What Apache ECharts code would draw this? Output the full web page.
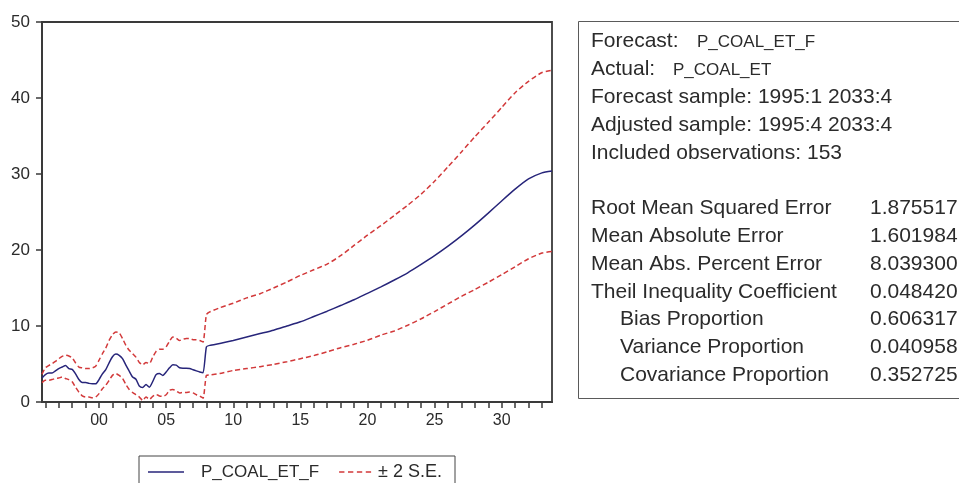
<!DOCTYPE html>
<html>
<head>
<meta charset="utf-8">
<script src="https://cdn.jsdelivr.net/npm/echarts@6/dist/echarts.min.js"></script>
<style>
  html, body { margin: 0; padding: 0; background: #ffffff; }
  #chart { width: 959px; height: 483px; }
</style>
</head>
<body>
<div id="chart"></div>
<script>
// Quarterly periods of the dynamic forecast (history 1995Q4-2007Q4, then the projection)
const periods = [
  '1995Q4',
  '1996Q1','1996Q2','1996Q3','1996Q4',
  '1997Q1','1997Q2','1997Q3','1997Q4',
  '1998Q1','1998Q2','1998Q3','1998Q4',
  '1999Q1','1999Q2','1999Q3','1999Q4',
  '2000Q1','2000Q2','2000Q3','2000Q4',
  '2001Q1','2001Q2','2001Q3','2001Q4',
  '2002Q1','2002Q2','2002Q3','2002Q4',
  '2003Q1','2003Q2','2003Q3','2003Q4',
  '2004Q1','2004Q2','2004Q3','2004Q4',
  '2005Q1','2005Q2','2005Q3','2005Q4',
  '2006Q1','2006Q2','2006Q3','2006Q4',
  '2007Q1','2007Q2','2007Q3','2007Q4',
  '2008Q1','2008Q2',
  '2009Q1','2010Q1','2011Q1','2012Q1','2013Q1','2014Q1','2015Q1','2016Q1',
  '2017Q1','2018Q1','2019Q1','2020Q1','2021Q1','2022Q1','2023Q1','2024Q1',
  '2025Q1','2026Q1','2027Q1','2028Q1','2029Q1','2030Q1','2031Q1','2032Q1',
  '2033Q1','2033Q4'
];

// Forecast P_COAL_ET_F
const forecast = [
  3.16,
  3.6, 3.8, 3.8, 4.1,
  4.4, 4.6, 4.8, 4.4,
  4.3, 3.7, 2.95, 2.55,
  2.55, 2.45, 2.4, 2.4,
  2.95, 3.7, 4.25, 5.15,
  5.95, 6.3, 6.15, 5.7,
  4.85, 4.05, 3.3, 3.0,
  2.1, 1.9, 2.3, 1.95,
  2.7, 3.6, 3.75, 3.5,
  3.95, 4.5, 4.9, 4.85,
  4.5, 4.45, 4.45, 4.4,
  4.25, 4.1, 3.95, 3.85,
  7.25, 7.45,
  7.7, 8.1, 8.55, 9.0, 9.45, 10.0, 10.55, 11.25,
  11.95, 12.7, 13.45, 14.3, 15.15, 16.05, 17.0, 18.1,
  19.25, 20.5, 21.85, 23.3, 24.85, 26.45, 28.0, 29.35,
  30.15, 30.4
];

// Upper band: forecast + 2 S.E.
const upper = [
  3.65,
  4.5, 4.8, 5.05, 5.35,
  5.7, 6.0, 6.15, 6.05,
  5.8, 5.15, 4.6, 4.5,
  4.4, 4.4, 4.5, 4.7,
  5.5, 6.35, 7.1, 8.1,
  8.85, 9.2, 9.1, 8.35,
  7.45, 6.8, 6.35, 5.9,
  5.2, 4.9, 5.2, 5.05,
  5.9, 6.65, 6.95, 6.95,
  7.25, 8.0, 8.55, 8.4,
  8.1, 8.25, 8.35, 8.35,
  8.2, 8.2, 8.1, 7.9,
  11.5, 11.85,
  12.4, 13.0, 13.7, 14.25, 15.0, 15.8, 16.65, 17.4,
  18.15, 19.25, 20.6, 21.95, 23.2, 24.55, 25.9, 27.35,
  29.05, 30.95, 32.9, 34.9, 36.8, 38.75, 40.7, 42.2,
  43.35, 43.65
];

// Lower band: forecast - 2 S.E.
const lower = [
  2.55,
  2.85, 2.85, 2.95, 3.1,
  3.15, 3.3, 3.1, 2.95,
  2.65, 1.95, 1.3, 0.8,
  0.65, 0.65, 0.55, 0.65,
  1.1, 1.75, 2.2, 2.85,
  3.5, 3.75, 3.5, 3.1,
  2.3, 1.65, 1.25, 0.95,
  0.65, 0.2, 0.65, 0.35,
  0.75, 1.0, 0.8, 0.75,
  0.95, 1.55, 1.65, 1.45,
  1.2, 1.25, 1.25, 1.3,
  1.2, 0.95, 0.8, 0.5,
  3.5, 3.55,
  3.75, 4.15, 4.4, 4.65, 4.95, 5.3, 5.7, 6.1,
  6.6, 7.15, 7.6, 8.12, 8.8, 9.35, 10.1, 10.95,
  11.9, 12.9, 13.9, 14.8, 15.75, 16.75, 17.8, 18.85,
  19.6, 19.8
];

// Axis ticks: one per year on the time axis, labels every five years
const yearTicks = [1996,1997,1998,1999,2000,2001,2002,2003,2004,2005,2006,2007,2008,2009,2010,
  2011,2012,2013,2014,2015,2016,2017,2018,2019,2020,2021,2022,2023,2024,2025,2026,2027,2028,
  2029,2030,2031,2032,2033];
const yearLabels = [2000, 2005, 2010, 2015, 2020, 2025, 2030];
const valueTicks = [0, 10, 20, 30, 40, 50];

// Forecast evaluation table
const headerRows = [
  ['Forecast:', 'P_COAL_ET_F'],
  ['Actual:', 'P_COAL_ET'],
  ['Forecast sample: 1995:1 2033:4', ''],
  ['Adjusted sample: 1995:4 2033:4', ''],
  ['Included observations: 153', '']
];
const statNames = ['Root Mean Squared Error', 'Mean Absolute Error', 'Mean Abs. Percent Error',
  'Theil Inequality Coefficient', 'Bias Proportion', 'Variance Proportion', 'Covariance Proportion'];
const statValues = ['1.875517', '1.601984', '8.039300', '0.048420', '0.606317', '0.040958', '0.352725'];
const statIndent = [false, false, false, false, true, true, true];

const fcName = 'P_COAL_ET_F';
const seName = '\u00b1 2 S.E.';

// Convert "YYYYQn" to a fractional year position
function toYear(p) {
  const y = parseInt(p.slice(0, 4), 10);
  const q = parseInt(p.slice(5), 10);
  return y + (q - 1) / 4;
}
const xs = periods.map(toYear);
const pairs = vals => vals.map((v, i) => [xs[i], v]);

const FONT = '"Liberation Sans", Arial, Helvetica, sans-serif';
const TEXT = '#2b2b2b';
const BLUE = '#27257a';
const RED = '#d2393a';
const DASH = [5, 3];

// Legend keys: a solid stroke and a dashed stroke
const solidKey = 'path://M0,0h36v1.6h-36z';
const dashedKey = 'path://M0,0h6v1.8h-6z M10,0h6v1.8h-6z M20,0h6v1.8h-6z M30,0h6v1.8h-6z';

// Text block of the evaluation table
const tableGraphics = [{
  type: 'rect',
  shape: { x: 578.5, y: 21.5, width: 400, height: 377 },
  style: { fill: 'none', stroke: '#5a5a5a', lineWidth: 1 },
  silent: true
}];
const rowTop = 41.7, rowStep = 27.8;
headerRows.forEach((r, i) => {
  const y = rowTop + i * rowStep;
  tableGraphics.push({
    type: 'text', x: 591, y: y,
    style: { text: r[0], font: '21px ' + FONT, fill: TEXT, textVerticalAlign: 'middle' }
  });
  if (r[1]) {
    tableGraphics.push({
      type: 'text', x: i === 0 ? 697 : 673, y: y + 1,
      style: { text: r[1], font: '17px ' + FONT, fill: TEXT, textVerticalAlign: 'middle' }
    });
  }
});
const statTop = 208.5;
statNames.forEach((n, i) => {
  const y = statTop + i * rowStep;
  tableGraphics.push({
    type: 'text', x: statIndent[i] ? 620 : 591, y: y,
    style: { text: n, font: '21px ' + FONT, fill: TEXT, textVerticalAlign: 'middle' }
  });
  tableGraphics.push({
    type: 'text', x: 870, y: y,
    style: { text: statValues[i], font: '21px ' + FONT, fill: TEXT, textVerticalAlign: 'middle' }
  });
});

const chart = echarts.init(document.getElementById('chart'), null, { renderer: 'canvas' });

chart.setOption({
  animation: false,
  backgroundColor: '#ffffff',
  textStyle: { fontFamily: FONT },
  grid: {
    left: 42, top: 22, width: 510, height: 380,
    show: true, borderColor: '#3a3a3a', borderWidth: 1.8, backgroundColor: 'transparent'
  },
  xAxis: {
    type: 'value',
    min: 1995.75,
    max: 2033.75,
    splitLine: { show: false },
    axisLine: { show: true, onZero: false, lineStyle: { color: '#3a3a3a', width: 2 } },
    axisTick: {
      show: true, inside: false, length: 6,
      customValues: yearTicks,
      lineStyle: { color: '#3a3a3a', width: 1.5 }
    },
    axisLabel: {
      customValues: yearLabels,
      margin: 11,
      fontSize: 16,
      color: TEXT,
      formatter: v => String(Math.round(v) % 100).padStart(2, '0')
    }
  },
  yAxis: {
    type: 'value',
    min: 0, max: 50, interval: 10,
    splitLine: { show: false },
    axisLine: { show: true, lineStyle: { color: '#3a3a3a', width: 2 } },
    axisTick: { show: true, inside: false, length: 6, lineStyle: { color: '#3a3a3a', width: 1.5 } },
    axisLabel: {
      margin: 12, fontSize: 17, color: TEXT,
      customValues: valueTicks
    }
  },
  legend: {
    left: 139, top: 456,
    orient: 'horizontal',
    data: [
      { name: fcName, icon: solidKey, itemStyle: { color: BLUE } },
      { name: seName, icon: dashedKey, itemStyle: { color: RED } }
    ],
    backgroundColor: '#ffffff',
    borderColor: '#444444', borderWidth: 1, borderRadius: 0,
    padding: [7, 13, 9, 9],
    itemWidth: 36, itemHeight: 1.6, itemGap: 20,
    textStyle: { fontSize: 17, color: TEXT, fontFamily: FONT,
      rich: {
        pad: { fontSize: 17, color: TEXT, fontFamily: FONT, padding: [0, 0, 0, 12] },
        se: { fontSize: 18, color: TEXT, fontFamily: FONT }
      } },
    formatter: n => n === fcName ? '{pad|' + n + '}' : '{se|' + n + '}'
  },
  series: [
    {
      name: fcName, type: 'line', data: pairs(forecast),
      showSymbol: false, symbol: 'none', smooth: 0.2,
      lineStyle: { color: BLUE, width: 1.5 }, itemStyle: { color: BLUE },
      z: 3
    },
    {
      name: seName, type: 'line', data: pairs(upper),
      showSymbol: false, symbol: 'none', smooth: 0.2,
      lineStyle: { color: RED, width: 1.5, type: DASH }, itemStyle: { color: RED },
      z: 2
    },
    {
      name: seName, type: 'line', data: pairs(lower),
      showSymbol: false, symbol: 'none', smooth: 0.2,
      lineStyle: { color: RED, width: 1.5, type: DASH }, itemStyle: { color: RED },
      z: 2
    }
  ],
  graphic: tableGraphics
});
</script>
</body>
</html>
